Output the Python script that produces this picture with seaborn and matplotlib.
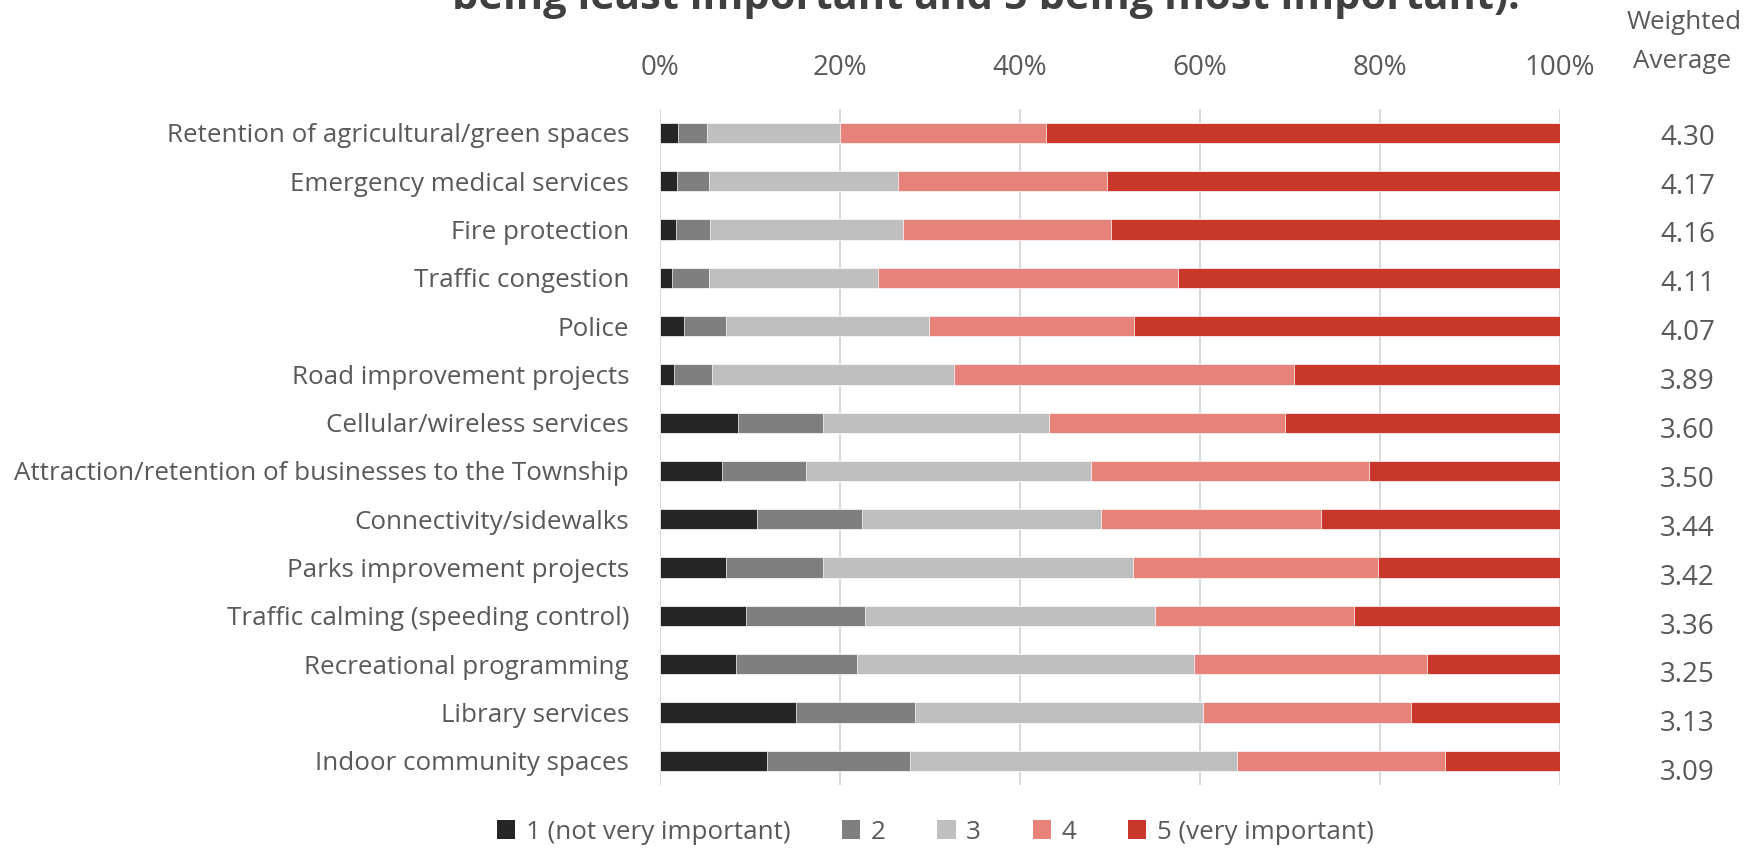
import matplotlib
matplotlib.use("Agg")
import matplotlib.pyplot as plt
import matplotlib.transforms as mtransforms
from matplotlib.patches import Patch
import numpy as np
import pandas as pd
import seaborn as sns

# survey items, top to bottom
items = [
    "Retention of agricultural/green spaces",
    "Emergency medical services",
    "Fire protection",
    "Traffic congestion",
    "Police",
    "Road improvement projects",
    "Cellular/wireless services",
    "Attraction/retention of businesses to the Township",
    "Connectivity/sidewalks",
    "Parks improvement projects",
    "Traffic calming (speeding control)",
    "Recreational programming",
    "Library services",
    "Indoor community spaces",
]

# share of responses per rating (%)
r1 = [2.0, 1.9, 1.8, 1.4, 2.7, 1.6, 8.7, 6.9, 10.8, 7.4, 9.6, 8.5, 15.1, 11.9]
r2 = [3.3, 3.6, 3.8, 4.1, 4.7, 4.2, 9.5, 9.4, 11.7, 10.8, 13.2, 13.4, 13.3, 15.9]
r3 = [14.7, 21.0, 21.4, 18.8, 22.5, 26.9, 25.0, 31.6, 26.5, 34.4, 32.2, 37.5, 31.9, 36.3]
r4 = [22.9, 23.2, 23.1, 33.3, 22.8, 37.7, 26.3, 30.9, 24.5, 27.2, 22.1, 25.8, 23.1, 23.1]
r5 = [57.1, 50.3, 49.9, 42.4, 47.3, 29.6, 30.5, 21.2, 26.5, 20.2, 22.9, 14.8, 16.6, 12.8]

weighted_avg = ["4.30", "4.17", "4.16", "4.11", "4.07", "3.89", "3.60",
                "3.50", "3.44", "3.42", "3.36", "3.25", "3.13", "3.09"]

legend_labels = ["1 (not very important)", "2", "3", "4", "5 (very important)"]
colors = ["#262626", "#7f7f7f", "#bfbfbf", "#e6827a", "#c8372a"]

df = pd.DataFrame({"item": items, "r1": r1, "r2": r2, "r3": r3, "r4": r4, "r5": r5})
cols = ["r1", "r2", "r3", "r4", "r5"]
cum = df[cols].cumsum(axis=1)
cum = cum.div(cum["r5"], axis=0) * 100  # make rows end at 100%

sns.set_style("white")
plt.rcParams["font.family"] = ["Open Sans", "DejaVu Sans"]
text_color = "#595959"
fs = 18.7

fig = plt.figure(figsize=(17.45, 8.49), dpi=100)
ax = fig.add_axes([0.378, 0.0754, 0.516, 0.7966])

# stacked bars: draw cumulative totals from the longest down
for col, c in reversed(list(zip(cols, colors))):
    sns.barplot(x=cum[col], y=df["item"], color=c, orient="h", width=0.42,
                saturation=1, edgecolor="white", linewidth=0.5, ax=ax)

ax.set_xlim(0, 100)
ax.set_ylim(13.5, -0.5)
ax.xaxis.tick_top()
ax.set_xticks(range(0, 101, 20), [f"{v}%" for v in range(0, 101, 20)])
ax.tick_params(axis="x", length=0, pad=19, labelsize=20, labelcolor=text_color)
ax.tick_params(axis="y", length=0, pad=22, labelsize=fs, labelcolor=text_color)
ax.set_xlabel("")
ax.set_ylabel("")
ax.grid(axis="x", color="#d9d9d9", linewidth=1.5)
ax.set_axisbelow(True)
for s in ax.spines.values():
    s.set_visible(False)

# weighted average column
trans = mtransforms.blended_transform_factory(fig.transFigure, ax.transData)
for i, v in enumerate(weighted_avg):
    ax.text(0.967, i + 0.1 + i * 0.012, v, transform=trans, ha="center", va="center",
            fontsize=20, color=text_color)
fig.text(0.965, 0.974, "Weighted", ha="center", va="center", fontsize=fs, color=text_color)
fig.text(0.964, 0.928, "Average", ha="center", va="center", fontsize=fs, color=text_color)

# title (top line runs off the canvas)
fig.text(0.565, 0.989, "being least important and 5 being most important).",
         ha="center", va="baseline", fontsize=30, fontweight="bold", color="#404040")

handles = [Patch(facecolor=c, edgecolor="none") for c in colors]
fig.legend(handles, legend_labels, loc="center", bbox_to_anchor=(0.536, 0.02), ncol=5,
           frameon=False, fontsize=fs, labelcolor=text_color, handlelength=0.7,
           handleheight=0.7, handletextpad=0.4, columnspacing=2.0)

fig.savefig("out.png", dpi=100)
